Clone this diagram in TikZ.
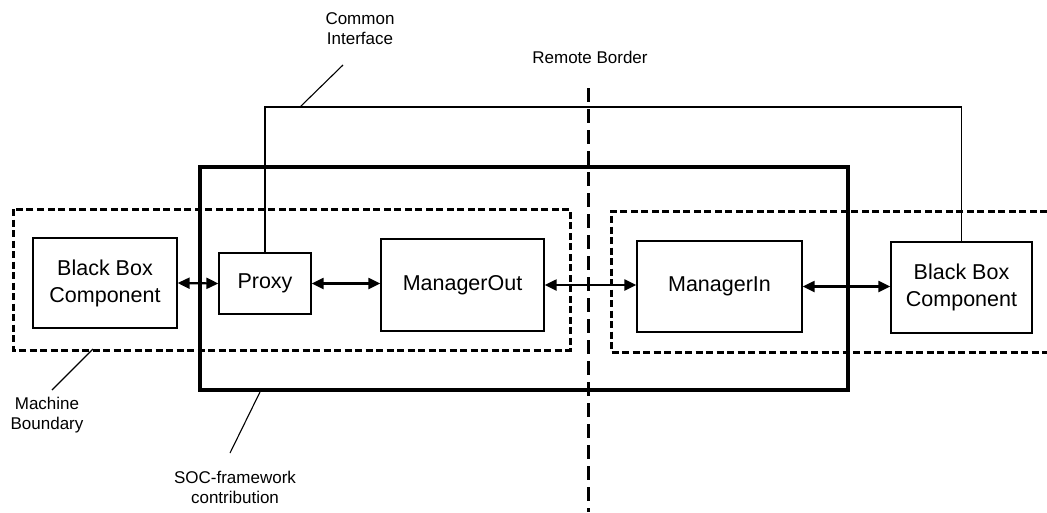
\documentclass[tikz,border=0pt]{standalone}
\usepackage{fontspec}
\setmainfont{Liberation Sans}
\usetikzlibrary{arrows.meta}
\begin{document}
\begin{tikzpicture}[x=1pt,y=-1pt,
  comp/.style={draw, line width=1.3pt, inner sep=0pt, align=center,
    font=\fontsize{21.5}{27}\selectfont},
  lbl/.style={align=center, inner sep=0pt, font=\fontsize{17}{20}\selectfont},
  biarrow/.style={line width=2.2pt, {Triangle[length=12pt,width=11pt]}-{Triangle[length=12pt,width=11pt]}},
  machine/.style={line width=3pt, dash pattern=on 7pt off 3.5pt},
  remote/.style={line width=3pt, dash pattern=on 14pt off 7pt},
  soc/.style={line width=4.2pt},
  leader/.style={line width=1.1pt}]
\useasboundingbox (0,0) rectangle (1047,512);
\fill[white] (0,0) rectangle (1047,512);
% machine boundaries
\draw[machine] (13,209) rectangle (570,350);
\draw[machine] (1047,211) -| (611,352) -- (1047,352);
% SOC framework box
\draw[soc] (200,167) rectangle (848,390);
% components
\node[comp, minimum width=144pt, minimum height=90pt] (bbL) at (105,283) {Black Box\\Component};
\node[comp, minimum width=92pt, minimum height=61pt] (proxy) at (265,283.5) {Proxy};
\node[comp, minimum width=163pt, minimum height=92pt] (mout) at (462.5,285) {ManagerOut};
\node[comp, minimum width=165pt, minimum height=91pt] (min) at (719.5,286.5) {ManagerIn};
\node[comp, minimum width=141pt, minimum height=91pt] (bbR) at (961.5,287.5) {Black Box\\Component};
% arrows
\draw[biarrow] (bbL.east) -- (proxy.west);
\draw[biarrow] (proxy.east) -- (proxy.east -| mout.west);
\draw[biarrow] (mout.east) -- (mout.east -| min.west);
\draw[biarrow] (min.east) -- (min.east -| bbR.west);
% common interface
\draw[line width=1.2pt] (proxy.north) |- (265,107) -| (bbR.north);
% remote border
\coordinate (rbTop) at (588,88);
\coordinate (rbBot) at (588,512);
\draw[remote] (rbTop) -- (rbBot);
% labels
\node[lbl] (ci) at (360,29) {Common\\Interface};
\node[lbl] (rb) at (590,57) {Remote Border};
\node[lbl] (mb) at (47,415) {Machine\\Boundary};
\node[lbl] (socl) at (235,487) {SOC-framework\\contribution};
\coordinate (ciA) at (343,65);
\coordinate (ciB) at (300,107);
\draw[leader] (ciA) -- (ciB);
\coordinate (mbA) at (52,390);
\coordinate (mbB) at (93,349);
\draw[leader] (mbA) -- (mbB);
\coordinate (socA) at (230,453);
\coordinate (socB) at (260,392);
\draw[leader] (socA) -- (socB);
\end{tikzpicture}
\end{document}
